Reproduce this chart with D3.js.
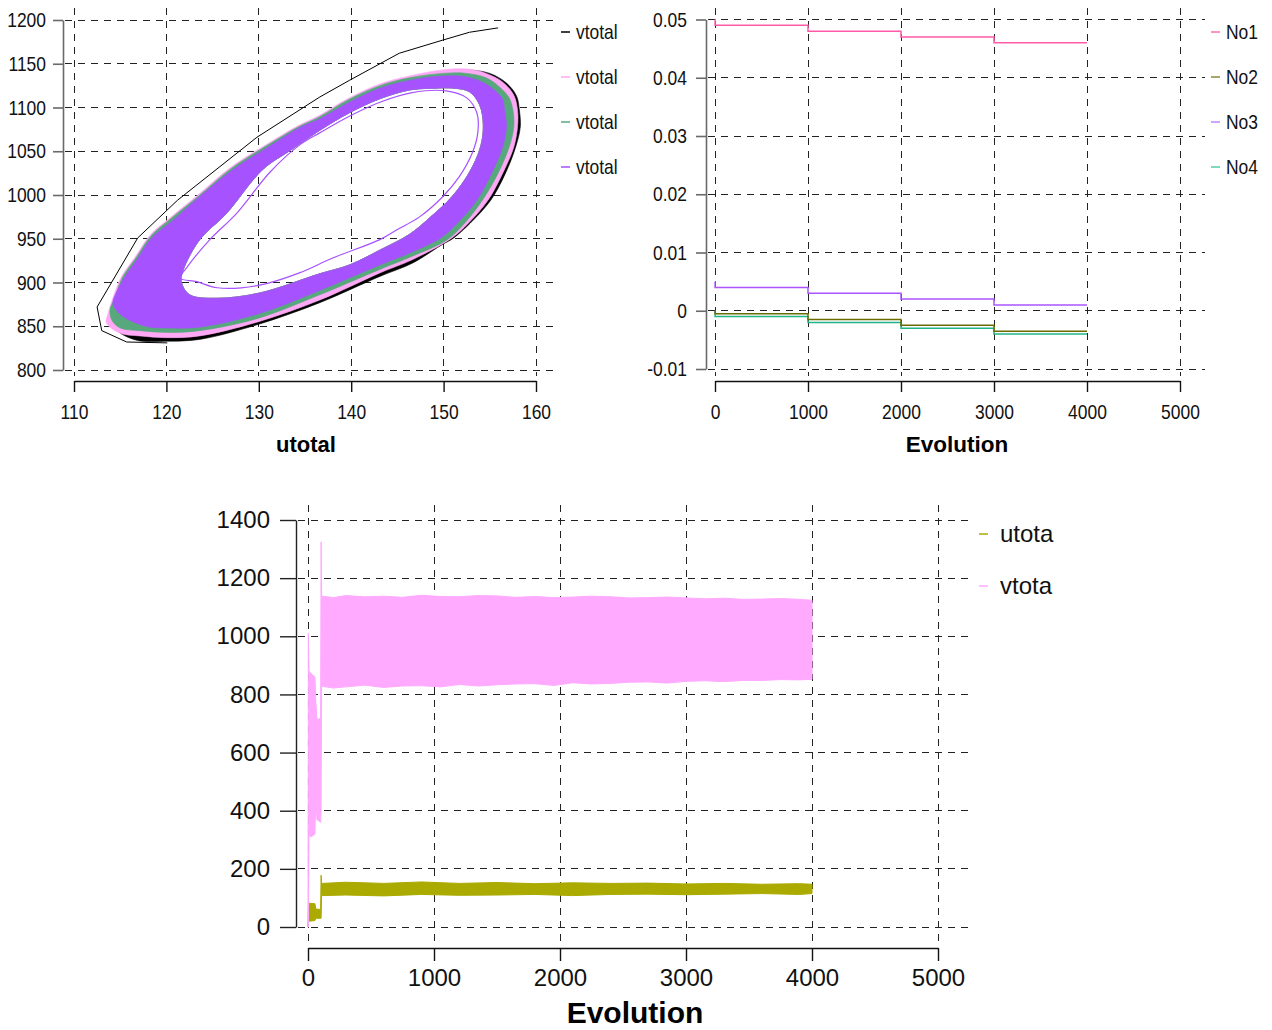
<!DOCTYPE html>
<html><head><meta charset="utf-8">
<script src="https://cdn.jsdelivr.net/npm/d3@7"></script>
<style>html,body{margin:0;padding:0;background:#fff}svg{display:block}</style>
</head><body>
<script>
// ---------------- DATA ----------------
// Panel 1: phase portrait utotal (x) vs vtotal (y)
const phaseXTicks = [110,120,130,140,150,160];
const phaseYTicks = [800,850,900,950,1000,1050,1100,1150,1200];
const phaseLegend = ["vtotal","vtotal","vtotal","vtotal"];
// outer contours of the orbit bands (series 1..4)
const orbitBlackOuter = [[114.2,860],[114.5,877],[115.2,903],[116.7,927],[118.4,953],[120.6,973],[123.5,999],[127.1,1030],[131.1,1057],[134.3,1078],[136.5,1088],[139.7,1109],[143.1,1125],[146.3,1134],[149.9,1141],[152.5,1143],[155.0,1139],[156.8,1128],[157.9,1113],[158.2,1097],[158.3,1078],[157.8,1055],[156.7,1025],[155.1,994],[152.9,968],[151.1,951],[149.8,943],[146.6,922],[143.1,907],[136.6,877],[129.9,852],[123.6,835],[120.1,833],[116.8,834],[114.6,846]];
const orbitPinkOuter = [[113.5,854],[113.7,865],[114.2,882],[115.1,906],[116.6,929],[118.3,955],[120.5,975],[123.4,1000],[127.0,1032],[131.0,1059],[134.2,1079],[136.4,1090],[139.6,1110],[143.1,1127],[146.3,1136],[149.9,1143],[152.5,1144],[154.6,1139],[156.4,1129],[157.6,1114],[158.0,1097],[158.0,1078],[157.6,1055],[156.4,1025],[154.8,994],[152.7,968],[150.9,951],[146.6,926],[143.1,911],[136.6,880],[129.9,855],[123.6,839],[120.1,837],[117.1,839],[115.0,842]];
const orbitGreenOuter = [[114.1,857],[113.9,869],[114.4,882],[115.2,905],[116.7,928],[118.4,954],[120.6,974],[123.5,999],[127.1,1031],[131.1,1058],[134.3,1078],[136.5,1089],[139.7,1109],[143.1,1125],[146.3,1134],[149.9,1139],[152.5,1139],[154.6,1134],[156.1,1123],[157.1,1111],[157.5,1097],[157.6,1078],[157.1,1055],[155.9,1025],[154.2,994],[152.3,968],[150.4,949],[146.6,930],[143.1,915],[136.6,886],[129.9,859],[123.6,845],[120.1,843],[117.1,845],[115.0,848]];
const orbitPurpleOuter = [[114.2,877],[115.3,903],[116.8,926],[118.5,952],[120.7,971],[123.6,998],[127.2,1029],[131.2,1056],[134.4,1077],[136.6,1087],[139.8,1106],[143.1,1122],[146.3,1131],[149.9,1136],[152.5,1135],[154.4,1128],[155.7,1118],[156.4,1109],[156.6,1097],[156.8,1078],[156.4,1055],[155.2,1025],[153.6,994],[151.5,968],[149.7,951],[146.6,935],[143.1,920],[136.6,891],[129.9,864],[123.6,849],[120.1,848],[118.2,849],[116.6,854],[115.2,862],[114.4,871]];
// inner edge of the band (hole)
const orbitInner = [[121.6,901],[121.8,914],[123.6,949],[126.5,979],[130.4,1029],[133.4,1051],[136.6,1074],[139.8,1094],[143.1,1110],[146.3,1120],[148.8,1122],[151.2,1122],[152.8,1118],[153.9,1103],[154.3,1080],[154.0,1055],[152.8,1026],[150.9,998],[148.5,974],[146.3,955],[143.1,937],[139.8,920],[136.6,910],[130.1,888],[125.5,882],[122.5,886]];
// innermost thin purple loop
const orbitThinLoop = [[121.5,905],[122.2,917],[124.7,949],[127.6,979],[131.2,1026],[134.4,1057],[136.6,1071],[139.8,1090],[143.1,1106],[146.6,1117],[150.3,1119],[152.5,1111],[153.6,1094],[153.7,1071],[153.1,1048],[151.7,1021],[149.9,998],[147.4,975],[144.9,960],[143.1,949],[138.0,928],[134.4,911],[130.1,897],[125.5,894],[123.3,901]];
// transient of series 1 (black)
const transientBlack = [[155.9,1191],[152.8,1186],[149.9,1177],[145.2,1162],[139.8,1131],[136.6,1112],[129.8,1066],[121.2,994],[116.9,951],[112.5,872],[113.0,845],[115.7,832],[120.1,831]];

// Panel 2: step series vs Evolution
const evoTicks = [0,1000,2000,3000,4000,5000];
const costTicks = [-0.01,0,0.01,0.02,0.03,0.04,0.05];
const costTickLabels = ["-0.01","0","0.01","0.02","0.03","0.04","0.05"];
const stepEvolution = [0,1,1000,2000,3000,4000];
const no1 = [0.05,0.049,0.048,0.047,0.046,0.046];
const no2 = [0,-0.0005,-0.0015,-0.0025,-0.0035,-0.0035];
const no3 = [0.005,0.004,0.003,0.002,0.001,0.001];
const no4 = [0,-0.001,-0.002,-0.003,-0.004,-0.004];
const stepNames = ["No1","No2","No3","No4"];

// Panel 3: population totals vs Evolution (envelopes of oscillation)
const popTicks = [0,200,400,600,800,1000,1200,1400];
const popNames = ["utota","vtota"];
const evoTimeV = [0,3,8,20,40,55,62,70,85,100,104,108,115,200,300,450,600,750,900,1050,1200,1350,1500,1650,1800,1950,2100,2250,2400,2550,2700,2850,3000,3150,3300,3450,3600,3750,3900,4000];
const vtotaHigh = [0,1010,880,875,865,860,780,715,715,720,1325,1140,1138,1133,1140,1136,1138,1134,1141,1137,1136,1140,1139,1134,1137,1133,1135,1138,1136,1132,1133,1135,1132,1129,1131,1127,1128,1130,1127,1124];
const vtotaLow  = [0,0,320,310,315,320,470,370,365,360,400,830,828,822,826,832,824,829,830,826,834,829,833,836,837,831,840,836,838,842,843,839,845,847,844,848,848,851,850,852];
const evoTimeU = [0,3,8,55,62,100,104,108,115,300,600,900,1200,1500,1800,2100,2400,2700,3000,3300,3600,3900,4000];
const utotaHigh = [0,80,82,80,62,60,178,152,150,154,150,155,150,153,149,152,150,151,148,150,147,149,147];
const utotaLow  = [0,18,20,22,30,30,30,112,108,110,107,112,109,110,112,108,112,113,111,113,115,112,115];

// ---------------- DRAWING ----------------
const W = 1272, H = 1030;
const SANS = "'Liberation Sans',Arial,Helvetica,sans-serif";
const svg = d3.select("body").append("svg").attr("width", W).attr("height", H);
svg.append("rect").attr("width", W).attr("height", H).attr("fill", "#fff");

function grid(g, xs, ys, xs_, ys_, xr, yr) {
  g.selectAll(null).data(xs).join("line")
    .attr("x1", d => xs_(d)).attr("x2", d => xs_(d)).attr("y1", yr[0]).attr("y2", yr[1]);
  g.selectAll(null).data(ys).join("line")
    .attr("y1", d => ys_(d)).attr("y2", d => ys_(d)).attr("x1", xr[0]).attr("x2", xr[1]);
  g.selectAll("line").attr("stroke", "#222").attr("stroke-width", 1)
    .attr("stroke-dasharray", "7,6").attr("shape-rendering", "crispEdges");
}
function styleAxis(g, color, w, size, narrow) {
  g.selectAll("path.domain").attr("stroke", color).attr("stroke-width", w);
  g.selectAll(".tick line").attr("stroke", color).attr("stroke-width", w);
  g.selectAll("text").attr("font-family", SANS).attr("font-size", size).attr("fill", "#111")
    .classed("narrow", !!narrow);
}
function narrowAll() {
  d3.selectAll("text.narrow").each(function () {
    const L = this.getComputedTextLength();
    if (L > 0) {
      this.setAttribute("textLength", (L * 0.83).toFixed(2));
      this.setAttribute("lengthAdjust", "spacingAndGlyphs");
    }
  });
}

// ---- Panel 1 ----
const xA = d3.scaleLinear().domain([110,160]).range([74,536]);
const yA = d3.scaleLinear().domain([800,1200]).range([370,20]);
grid(svg.append("g"), phaseXTicks, phaseYTicks, xA, yA, [65,557], [8,376]);

const orbit = d3.line().x(d => xA(d[0])).y(d => yA(d[1])).curve(d3.curveCatmullRomClosed.alpha(0.5));
const bands = [
  [orbitBlackOuter, "#000000"],
  [orbitPinkOuter, "#ffa8f6"],
  [orbitGreenOuter, "#57a87c"],
  [orbitPurpleOuter, "#a652ff"]
];
bands.forEach(([outer, col]) => {
  svg.append("path").attr("d", orbit(outer) + orbit(orbitInner))
    .attr("fill", col).attr("fill-rule", "evenodd").attr("stroke", col).attr("stroke-width", 0.6);
});
svg.append("path").attr("d", orbit(orbitThinLoop)).attr("fill", "none")
  .attr("stroke", "#a652ff").attr("stroke-width", 1.2);
svg.append("path").attr("d", d3.line().x(d => xA(d[0])).y(d => yA(d[1]))(transientBlack))
  .attr("fill", "none").attr("stroke", "#000").attr("stroke-width", 1);

const phaseYMinor = d3.range(800, 1201, 10).filter(v => v % 50 !== 0);
const phaseXMinor = d3.range(110, 161, 2).filter(v => v % 10 !== 0);
let g = svg.append("g").attr("transform", "translate(63,0)");
g.call(d3.axisLeft(yA).tickValues(phaseYMinor).tickSize(5).tickSizeOuter(0).tickFormat(() => ""));
g.call(d3.axisLeft(yA).tickValues(phaseYTicks).tickSize(10).tickSizeOuter(0).tickPadding(7).tickFormat(d3.format("d")));
styleAxis(g, "#6a6a6a", 1.6, 21, true);
g = svg.append("g").attr("transform", "translate(0,381)");
g.call(d3.axisBottom(xA).tickValues(phaseXMinor).tickSize(6).tickSizeOuter(0).tickFormat(() => ""));
g.call(d3.axisBottom(xA).tickValues(phaseXTicks).tickSize(11).tickSizeOuter(0).tickPadding(12).tickFormat(d3.format("d")));
styleAxis(g, "#111", 1.4, 21, true);
svg.append("text").attr("x", 306).attr("y", 452).attr("text-anchor", "middle")
  .attr("font-family", SANS).attr("font-weight", "bold").attr("font-size", 22).text("utotal");
const legA = svg.append("g");
phaseLegend.forEach((name, i) => {
  const y = 32 + i * 45;
  legA.append("line").attr("x1", 561).attr("x2", 570).attr("y1", y).attr("y2", y)
    .attr("stroke", bands[i][1]).attr("stroke-width", 1.5);
  legA.append("text").attr("x", 576).attr("y", y).attr("dy", "0.35em").classed("narrow", true)
    .attr("font-family", SANS).attr("font-size", 21).attr("fill", "#111").text(name);
});

// ---- Panel 2 ----
const xB = d3.scaleLinear().domain([0,5000]).range([715,1180]);
const yB = d3.scaleLinear().domain([-0.01,0.05]).range([369,19.5]);
grid(svg.append("g"), evoTicks, costTicks, xB, yB, [708,1205], [8,376]);
const stepSeries = [no1, no2, no3, no4];
const stepColors = ["#ff5aa8", "#6b6b00", "#aa55ff", "#1fb58a"];
const stepLegendColors = ["#ff6eb0", "#8a8a3a", "#bb88ff", "#55ccaa"];
const stepLine = d3.line().x(d => xB(d[0])).y(d => yB(d[1])).curve(d3.curveStepAfter);
[3, 1, 2, 0].forEach(i => {
  const pts = stepEvolution.map((t, k) => [t, stepSeries[i][k]]);
  svg.append("path").attr("d", stepLine(pts)).attr("fill", "none")
    .attr("stroke", stepColors[i]).attr("stroke-width", 1.5);
});
const costMinor = d3.range(-0.005, 0.05, 0.01);
g = svg.append("g").attr("transform", "translate(706,0)");
g.call(d3.axisLeft(yB).tickValues(costMinor).tickSize(6).tickSizeOuter(0).tickFormat(() => ""));
g.call(d3.axisLeft(yB).tickValues(costTicks).tickSize(10).tickSizeOuter(0).tickPadding(9)
  .tickFormat((d, i) => costTickLabels[i]));
styleAxis(g, "#6a6a6a", 1.6, 21, true);
g = svg.append("g").attr("transform", "translate(0,381)");
g.call(d3.axisBottom(xB).tickValues(d3.range(500, 5000, 1000)).tickSize(6).tickSizeOuter(0).tickFormat(() => ""));
g.call(d3.axisBottom(xB).tickValues(evoTicks).tickSize(11).tickSizeOuter(0).tickPadding(12).tickFormat(d3.format("d")));
styleAxis(g, "#111", 1.4, 21, true);
svg.append("text").attr("x", 957).attr("y", 452).attr("text-anchor", "middle")
  .attr("font-family", SANS).attr("font-weight", "bold").attr("font-size", 22.5).text("Evolution");
const legB = svg.append("g");
stepNames.forEach((name, i) => {
  const y = 32 + i * 45;
  legB.append("line").attr("x1", 1211).attr("x2", 1220).attr("y1", y).attr("y2", y)
    .attr("stroke", stepLegendColors[i]).attr("stroke-width", 1.5);
  legB.append("text").attr("x", 1226).attr("y", y).attr("dy", "0.35em").classed("narrow", true)
    .attr("font-family", SANS).attr("font-size", 21).attr("fill", "#111").text(name);
});

// ---- Panel 3 ----
const xC = d3.scaleLinear().domain([0,5000]).range([308,938]);
const yC = d3.scaleLinear().domain([0,1400]).range([927,520]);
grid(svg.append("g"), evoTicks, popTicks, xC, yC, [298,972], [505,942]);
const areaU = d3.area().x((d, i) => xC(evoTimeU[i])).y0((d, i) => yC(utotaLow[i])).y1((d, i) => yC(utotaHigh[i]));
const areaV = d3.area().x((d, i) => xC(evoTimeV[i])).y0((d, i) => yC(vtotaLow[i])).y1((d, i) => yC(vtotaHigh[i]));
const popColors = ["#aaaa00", "#ffaaff"];
svg.append("path").attr("d", areaU(evoTimeU)).attr("fill", popColors[0]).attr("stroke", popColors[0]).attr("stroke-width", 1);
svg.append("path").attr("d", areaV(evoTimeV)).attr("fill", popColors[1]).attr("stroke", popColors[1]).attr("stroke-width", 1);
g = svg.append("g").attr("transform", "translate(296,0)");
g.call(d3.axisLeft(yC).tickValues(d3.range(50, 1400, 50).filter(v => v % 200 !== 0)).tickSize(11).tickSizeOuter(0).tickFormat(() => ""));
g.call(d3.axisLeft(yC).tickValues(popTicks).tickSize(16).tickSizeOuter(0).tickPadding(10).tickFormat(d3.format("d")));
styleAxis(g, "#222", 1.4, 24, false);
g = svg.append("g").attr("transform", "translate(0,948)");
g.call(d3.axisBottom(xC).tickValues(d3.range(500, 5000, 1000)).tickSize(7).tickSizeOuter(0).tickFormat(() => ""));
g.call(d3.axisBottom(xC).tickValues(evoTicks).tickSize(13).tickSizeOuter(0).tickPadding(8).tickFormat(d3.format("d")));
styleAxis(g, "#111", 1.4, 24, false);
svg.append("text").attr("x", 635).attr("y", 1023).attr("text-anchor", "middle")
  .attr("font-family", SANS).attr("font-weight", "bold").attr("font-size", 30).text("Evolution");
const legC = svg.append("g");
popNames.forEach((name, i) => {
  const y = 534 + i * 52;
  legC.append("line").attr("x1", 979).attr("x2", 988).attr("y1", y).attr("y2", y)
    .attr("stroke", popColors[i]).attr("stroke-width", 1.5);
  legC.append("text").attr("x", 1000).attr("y", y).attr("dy", "0.35em")
    .attr("font-family", SANS).attr("font-size", 24).attr("fill", "#111").text(name);
});
narrowAll();
</script>
</body></html>
